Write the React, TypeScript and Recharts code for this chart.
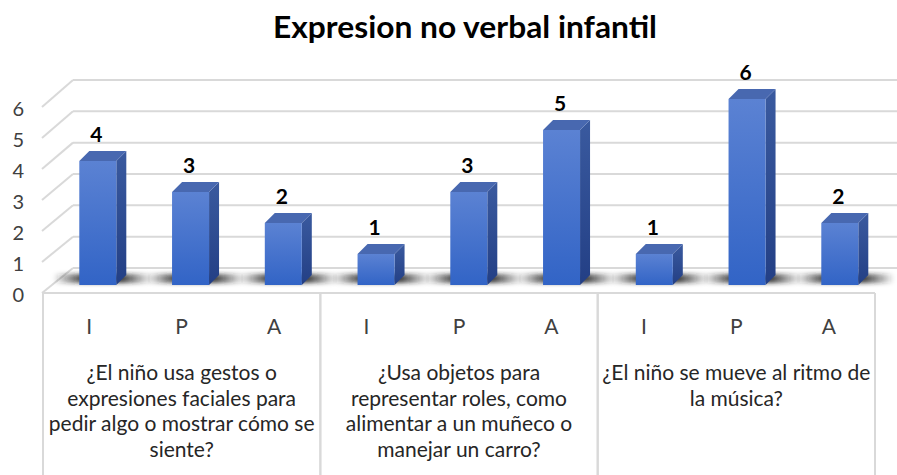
import React from 'react';
import { BarChart, Bar, XAxis, YAxis, CartesianGrid, LabelList } from 'recharts';

const title = 'Expresion no verbal infantil';
const categories = ['I', 'P', 'A', 'I', 'P', 'A', 'I', 'P', 'A'];
const groupIndex = [0, 0, 0, 1, 1, 1, 2, 2, 2];
const values = [4, 3, 2, 1, 3, 5, 1, 6, 2];
const groupLabels = [
  ['¿El niño usa gestos o', 'expresiones faciales para', 'pedir algo o mostrar cómo se', 'siente?'],
  ['¿Usa objetos para', 'representar roles, como', 'alimentar a un muñeco o', 'manejar un carro?'],
  ['¿El niño se mueve al ritmo de', 'la música?'],
];
const yTicks = [0, 1, 2, 3, 4, 5, 6];

const data = categories.map((c, i) => ({ key: `${c}-${i}`, cat: c, group: groupIndex[i], value: values[i] }));

const W = 897;
const H = 475;
const PLOT_LEFT = 43;
const PLOT_RIGHT = 875;
const PLOT_TOP = 99;
const PLOT_BOTTOM = 285;
const Y_AXIS_W = 30;
const X_AXIS_H = 30;
const BAND = (PLOT_RIGHT - PLOT_LEFT) / categories.length;
const FONT = 'Lato, "Open Sans", sans-serif';
const GRID = '#d9d9d9';
const WALL_X = 73;
const FRONT_X = 42;
const DEPTH = 10;

const backY = (y: number) => y - 17 - (PLOT_BOTTOM - y) * 0.011;
const frontY = (y: number) => y + 8;

const GridLine = (p: any) => {
  const y = p.y1;
  const yb = backY(y);
  const yf = frontY(y);
  const isFloor = Math.abs(y - PLOT_BOTTOM) < 0.5;
  return (
    <g key={`g-${p.index}-${y}`}>
      {isFloor && (
        <polygon
          points={`${FRONT_X},${yf} ${PLOT_RIGHT},${yf} ${W + 10},${yb} ${WALL_X},${yb}`}
          fill="#ffffff"
        />
      )}
      <line x1={WALL_X} y1={yb} x2={W} y2={yb} stroke={GRID} strokeWidth={2} />
      <line x1={FRONT_X} y1={yf} x2={WALL_X} y2={yb} stroke={GRID} strokeWidth={2} />
      {isFloor && <line x1={PLOT_LEFT} y1={yf} x2={PLOT_RIGHT} y2={yf} stroke={GRID} strokeWidth={2} />}
    </g>
  );
};

const Bar3D = (props: any) => {
  const { x, y, width, height } = props;
  if (x == null || y == null) return null;
  const shift = 8.3 + (x - 70.7) * 0.0033;
  const fx = x + shift;
  const top = y;
  const bottom = y + height;
  const w = width;
  return (
    <g>
      <rect
        x={fx - 26}
        y={bottom - 11}
        width={w + 62}
        height={9}
        fill="url(#shadowGrad)"
        filter="url(#blurShadow)"
      />
      <polygon
        points={`${fx + w},${top} ${fx + w + DEPTH},${top - DEPTH} ${fx + w + DEPTH},${bottom - DEPTH} ${fx + w},${bottom}`}
        fill="url(#sideGrad)"
      />
      <polygon
        points={`${fx},${top} ${fx + DEPTH},${top - DEPTH} ${fx + w + DEPTH},${top - DEPTH} ${fx + w},${top}`}
        fill="#4868b0"
      />
      <rect x={fx} y={top} width={w} height={height} fill="url(#frontGrad)" />
    </g>
  );
};

const ValueLabel = (p: any) => {
  const { x, y, width, value } = p;
  if (x == null) return null;
  const shift = 8.3 + (x - 70.7) * 0.0033;
  const cx = x + shift + width / 2 - 1.5;
  return (
    <text x={cx} y={y - 19} textAnchor="middle" fontFamily={FONT} fontWeight={700} fontSize={21} fill="#000">
      {value}
    </text>
  );
};

const YTick = (p: any) => {
  const { y, payload } = p;
  return (
    <text x={24} y={y + 17} textAnchor="end" fontFamily={FONT} fontSize={20} fill="#404040">
      {payload.value}
    </text>
  );
};

const XTick = (p: any) => {
  const { x, y, index } = p;
  const cat = categories[index];
  const g = groupIndex[index];
  const pos = index % 3;
  const lines = pos === 1 ? groupLabels[g] : [];
  const top = PLOT_BOTTOM + 8;
  return (
    <g>
      <text x={x} y={y + 49} textAnchor="middle" fontFamily={FONT} fontSize={21} fill="#404040">
        {cat}
      </text>
      {lines.map((t, k) => (
        <text key={k} x={x} y={y + 95 + k * 25.5} textAnchor="middle" fontFamily={FONT} fontSize={21} fill="#262626">
          {t}
        </text>
      ))}
      {pos === 0 && <line x1={x - BAND / 2} y1={top} x2={x - BAND / 2} y2={H} stroke={GRID} strokeWidth={2} />}
      {pos === 2 && <line x1={x + BAND / 2} y1={top} x2={x + BAND / 2} y2={H} stroke={GRID} strokeWidth={2} />}
    </g>
  );
};

export default function App() {
  return (
    <div style={{ position: 'relative', width: W, height: H, background: '#fff' }}>
      <style>{'body{margin:0;background:#fff;}'}</style>
      <svg width={W} height={60} style={{ position: 'absolute', left: 0, top: 0 }}>
        <text
          x={465}
          y={38}
          textAnchor="middle"
          fontFamily={FONT}
          fontWeight={700}
          fontSize={31}
          fill="#000"
          textLength={384}
          lengthAdjust="spacingAndGlyphs"
        >
          {title}
        </text>
      </svg>
      <div style={{ position: 'absolute', left: 0, top: 0 }}>
        <BarChart
          width={W}
          height={H}
          data={data}
          margin={{ top: PLOT_TOP, right: W - PLOT_RIGHT, bottom: H - PLOT_BOTTOM - X_AXIS_H, left: PLOT_LEFT - Y_AXIS_W }}
          barSize={37}
        >
          <defs>
            <linearGradient id="frontGrad" x1="0" y1="0" x2="0" y2="1">
              <stop offset="0%" stopColor="#5b82d3" />
              <stop offset="100%" stopColor="#3264c6" />
            </linearGradient>
            <linearGradient id="sideGrad" x1="0" y1="0" x2="0" y2="1">
              <stop offset="0%" stopColor="#3a5a9f" />
              <stop offset="100%" stopColor="#233f85" />
            </linearGradient>
            <linearGradient id="shadowGrad" x1="0" y1="0" x2="1" y2="0">
              <stop offset="0%" stopColor="#222" stopOpacity={0} />
              <stop offset="30%" stopColor="#222" stopOpacity={0.85} />
              <stop offset="70%" stopColor="#222" stopOpacity={0.85} />
              <stop offset="100%" stopColor="#222" stopOpacity={0} />
            </linearGradient>
            <filter id="blurShadow" x="-20%" y="-100%" width="140%" height="300%">
              <feGaussianBlur stdDeviation="2" />
            </filter>
          </defs>
          <CartesianGrid vertical={false} horizontal={(p: any) => <GridLine {...p} />} />
          <XAxis
            dataKey="key"
            height={X_AXIS_H}
            axisLine={false}
            tickLine={false}
            tickSize={0}
            tickMargin={0}
            interval={0}
            tick={(p: any) => <XTick {...p} />}
          />
          <YAxis
            width={Y_AXIS_W}
            domain={[0, 6]}
            ticks={yTicks}
            axisLine={false}
            tickLine={false}
            tickSize={0}
            tickMargin={0}
            interval={0}
            tick={(p: any) => <YTick {...p} />}
          />
          <Bar dataKey="value" isAnimationActive={false} shape={(p: any) => <Bar3D {...p} />}>
            <LabelList dataKey="value" content={(p: any) => <ValueLabel {...p} />} />
          </Bar>
        </BarChart>
      </div>
    </div>
  );
}
